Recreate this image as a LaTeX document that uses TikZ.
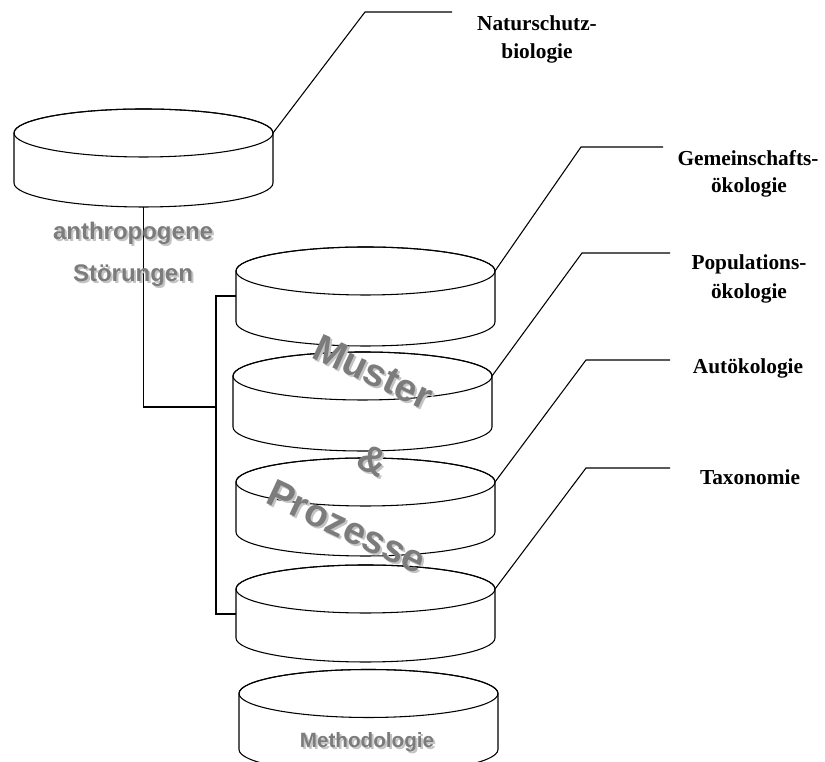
\documentclass[tikz,border=0pt]{standalone}
\usepackage{fontspec}
\setmainfont{Liberation Serif}
\newfontfamily\graysans{Liberation Sans}
\definecolor{wordgray}{HTML}{7C7C7C}
\definecolor{wordshade}{HTML}{C4C4C4}

\tikzset{
  discline/.style={line width=0.8pt},
  leader/.style={line width=0.8pt},
  disc h/.store in=\dischgt, disc h=50,
  % a flat cylinder (disc); origin = centre of the top ellipse
  disc/.pic={
    \draw[discline, fill=white] (-129.5,0) -- (-129.5,-\dischgt)
      arc[start angle=180, end angle=360, x radius=97.125pt, y radius=18pt]
      -- (129.5,0)
      arc[start angle=0, end angle=180, x radius=97.125pt, y radius=18pt] -- cycle;
    \draw[discline] (0,0) ellipse[x radius=97.125pt, y radius=18pt];
    \coordinate (-e) at (129.5,0);
    \coordinate (-wl) at (-129.5,-25);
    \coordinate (-s) at (0,-\dischgt-24);
  },
  fieldname/.style={font=\fontsize{16}{18}\selectfont\bfseries, inner sep=0pt},
  wordmain/.style={text=wordgray, inner sep=0pt, font=\graysans\bfseries},
  wordshadow/.style={text=wordshade, inner sep=0pt, font=\graysans\bfseries},
}

% grey sans word with a light drop shadow: name, x, y, angle, size, text
\newcommand\shadeword[6]{%
  \node[wordshadow, rotate=#4] (#1-sh) at (#2+2,#3-2) {\fontsize{#5}{#5}\selectfont #6};
  \node[wordmain, rotate=#4] (#1) at (#2,#3) {\fontsize{#5}{#5}\selectfont #6};
}

\begin{document}
\begin{tikzpicture}[x=0.75pt, y=0.75pt]
\useasboundingbox (0,0) rectangle (825,762);

% discs
\pic (N) at (143.5,629) {disc};
\pic[disc h=51] (G) at (365.5,491) {disc};
\pic[disc h=51] (P) at (362.5,386) {disc};
\pic (A) at (365.5,280) {disc};
\pic[disc h=49] (T) at (365.5,173) {disc};
\pic[disc h=56] (M) at (368.5,68.5) {disc};

% bracket joining the upper disc to the stack
\coordinate (join) at (216,355);
\draw[leader] (N-s) |- (join);
\draw[leader] (G-wl) -| (join);
\draw[leader] (T-wl) -| (join);

% leader lines to the field names
\coordinate (nat-b) at (365,750);  \coordinate (nat-t) at (452,750);
\coordinate (gem-b) at (581,615);  \coordinate (gem-t) at (663,615);
\coordinate (pop-b) at (582,509);  \coordinate (pop-t) at (670,509);
\coordinate (aut-b) at (586,402);  \coordinate (aut-t) at (670,402);
\coordinate (tax-b) at (586,294);  \coordinate (tax-t) at (670,294);
\draw[leader] (N-e) -- (nat-b) -- (nat-t);
\draw[leader] (G-e) -- (gem-b) -- (gem-t);
\draw[leader] (P-e) -- (pop-b) -- (pop-t);
\draw[leader] (A-e) -- (aut-b) -- (aut-t);
\draw[leader] (T-e) -- (tax-b) -- (tax-t);

% field names
\node[fieldname] (nat1) at (537,739) {Naturschutz-};
\node[fieldname] (nat2) at (537,709) {biologie};
\node[fieldname] (gem1) at (748,604) {Gemeinschafts-};
\node[fieldname] (gem2) at (749,575) {ökologie};
\node[fieldname] (pop1) at (749,498) {Populations-};
\node[fieldname] (pop2) at (749,469) {ökologie};
\node[fieldname] (aut1) at (748,394) {Autökologie};
\node[fieldname] (tax1) at (750,285) {Taxonomie};

% grey words
\shadeword{anth}{133}{529}{0}{18}{anthropogene}
\shadeword{stoer}{133}{486}{0}{18}{Störungen}
\shadeword{meth}{367}{20}{0}{15.5}{Methodologie}
\shadeword{must}{373}{390}{-25}{29}{Muster}
\shadeword{amp}{373}{302}{-25}{29}{\&}
\shadeword{proz}{347}{235}{-25}{29}{Prozesse}
\end{tikzpicture}
\end{document}
